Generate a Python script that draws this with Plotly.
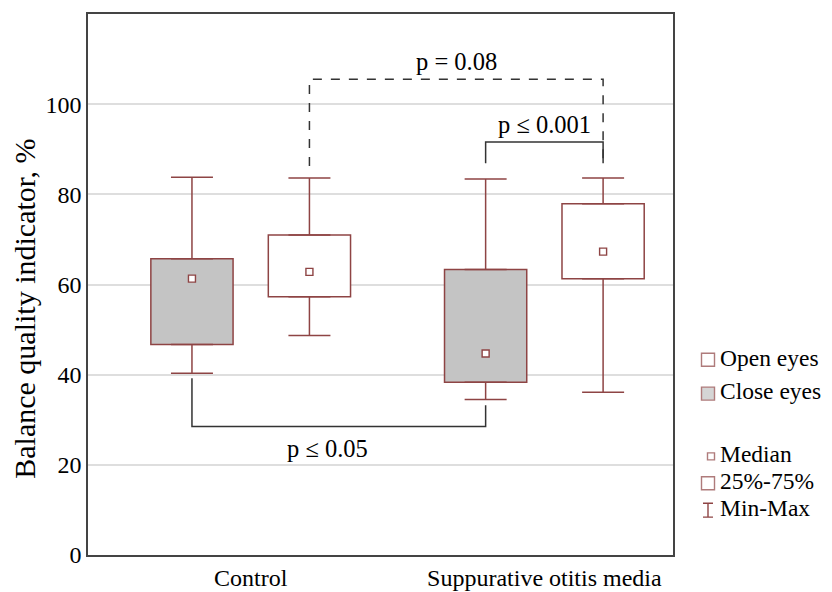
import plotly.graph_objects as go

# ---------------- data ----------------
groups = ["Control", "Suppurative otitis media"]
group_pos = [0.0, 1.0]
cond_offset = {"Close eyes": -0.2, "Open eyes": 0.2}

# per group: [Control, Suppurative otitis media]
close_min = [40.3, 34.5]
close_q1 = [46.7, 38.3]
close_med = [61.3, 44.7]
close_q3 = [65.7, 63.3]
close_max = [83.8, 83.4]

open_min = [48.7, 36.1]
open_q1 = [57.3, 61.3]
open_med = [62.8, 67.3]
open_q3 = [71.0, 77.9]
open_max = [83.6, 83.6]

# comparisons: (x0, x1, y at left end, y of bar, y at right end, label, label x, label y, dashed)
brackets = [
    (0.2, 1.2, 86.3, 105.5, 86.1, "p = 0.08", 0.70, 109.5, True),
    (0.8, 1.2, 86.9, 91.6, 86.9, "p \u2264 0.001", 1.00, 95.6, False),
    (-0.2, 0.8, 39.2, 28.5, 33.2, "p \u2264 0.05", 0.26, 23.7, False),
]

y_ticks = [0, 20, 40, 60, 80, 100]
y_title = "Balance quality indicator, %"

legend_labels = ["Open eyes", "Close eyes", "Median", "25%-75%", "Min-Max"]

# ---------------- style ----------------
BOX_LINE = "#8e4444"
GRAY = "#c4c4c4"
FONT = "Liberation Serif, Times New Roman, serif"

fig = go.Figure()

stats = {
    "Close eyes": (close_min, close_q1, close_med, close_q3, close_max, GRAY),
    "Open eyes": (open_min, open_q1, open_med, open_q3, open_max, "white"),
}

for cond in ["Close eyes", "Open eyes"]:
    mn, q1, md, q3, mx, fill = stats[cond]
    xs = [g + cond_offset[cond] for g in group_pos]
    fig.add_trace(go.Bar(
        x=xs, base=q1, y=[b - a for a, b in zip(q1, q3)], width=0.28,
        marker=dict(color=fill, line=dict(color=BOX_LINE, width=1.5)),
        name=cond, hoverinfo="skip", xaxis="x", yaxis="y",
    ))
    fig.add_trace(go.Scatter(
        x=xs, y=mx, mode="markers", marker=dict(size=1, color="rgba(0,0,0,0)"),
        error_y=dict(type="data", symmetric=False, array=[0, 0],
                     arrayminus=[b - a for a, b in zip(q3, mx)],
                     color=BOX_LINE, thickness=1.5, width=21),
        hoverinfo="skip",
    ))
    fig.add_trace(go.Scatter(
        x=xs, y=mn, mode="markers", marker=dict(size=1, color="rgba(0,0,0,0)"),
        error_y=dict(type="data", symmetric=False, arrayminus=[0, 0],
                     array=[b - a for a, b in zip(mn, q1)],
                     color=BOX_LINE, thickness=1.5, width=21),
        hoverinfo="skip",
    ))
    fig.add_trace(go.Scatter(
        x=xs, y=md, mode="markers",
        marker=dict(symbol="square", size=7, color="white",
                    line=dict(color=BOX_LINE, width=1.4)),
        hoverinfo="skip",
    ))

# ---------------- key (drawn in its own small pixel-unit panel) ----------------
key_sym_x = [708, 708, 711, 708]
key_text_x = 720
key_y = [359, 393, 456, 483, 510]
fig.add_trace(go.Scatter(
    x=key_sym_x, y=key_y[:4], mode="markers", cliponaxis=False,
    marker=dict(symbol="square", size=[13, 13, 7, 13], color=["white", GRAY, "white", "white"],
                line=dict(color=BOX_LINE, width=1.4)),
    xaxis="x2", yaxis="y2", hoverinfo="skip",
))
fig.add_trace(go.Scatter(
    x=[708], y=[key_y[4]], mode="markers", marker=dict(size=1, color="rgba(0,0,0,0)"),
    error_y=dict(type="constant", value=7, color=BOX_LINE, thickness=1.4, width=5),
    xaxis="x2", yaxis="y2", hoverinfo="skip", cliponaxis=False,
))
fig.add_trace(go.Scatter(
    x=[key_text_x] * len(legend_labels), y=key_y, mode="text", text=legend_labels,
    textposition="middle right", textfont=dict(family=FONT, size=23.5, color="black"),
    xaxis="x2", yaxis="y2", hoverinfo="skip", cliponaxis=False,
))

# comparison brackets
for x0, x1, yl, yt, yr, label, lx, ly, dashed in brackets:
    fig.add_shape(
        type="path", xref="x", yref="y",
        path=f"M {x0},{yl} V {yt} H {x1} V {yr}",
        line=dict(color="#333333", width=1.5, dash="dash" if dashed else "solid"),
    )
    fig.add_annotation(
        x=lx, y=ly, xref="x", yref="y", text=label, showarrow=False,
        font=dict(family=FONT, size=24.5, color="black"),
    )

# y-axis title
fig.add_annotation(
    x=-0.085, y=0.455, xref="paper", yref="paper", text=y_title, textangle=-90,
    showarrow=False, xanchor="center", yanchor="middle",
    font=dict(family=FONT, size=30, color="black"),
)

fig.update_layout(
    width=832, height=592,
    margin=dict(l=80, r=10, t=4, b=45),
    paper_bgcolor="white", plot_bgcolor="white",
    barmode="overlay", showlegend=False,
    font=dict(family=FONT, size=24, color="black"),
    xaxis=dict(
        domain=[0, 0.7884], range=[-0.554, 1.438], tickmode="array", tickvals=group_pos,
        ticktext=groups, showgrid=False, zeroline=False, showline=True,
        linecolor="#444444", linewidth=1.5, mirror=True, ticks="",
        tickfont=dict(family=FONT, size=24), fixedrange=True,
    ),
    yaxis=dict(
        range=[0, 120], tickmode="array", tickvals=y_ticks,
        showgrid=True, gridcolor="#dedede", gridwidth=1.5, zeroline=False,
        showline=True, linecolor="#444444", linewidth=1.5, mirror=True,
        ticks="", tickfont=dict(family=FONT, size=24), fixedrange=True,
    ),
    xaxis2=dict(domain=[0.80, 1.0], range=[681.6, 830], visible=False, fixedrange=True),
    yaxis2=dict(domain=[0, 1], range=[555, 12], anchor="x2", visible=False, fixedrange=True),
)

fig.write_html("out.html")
